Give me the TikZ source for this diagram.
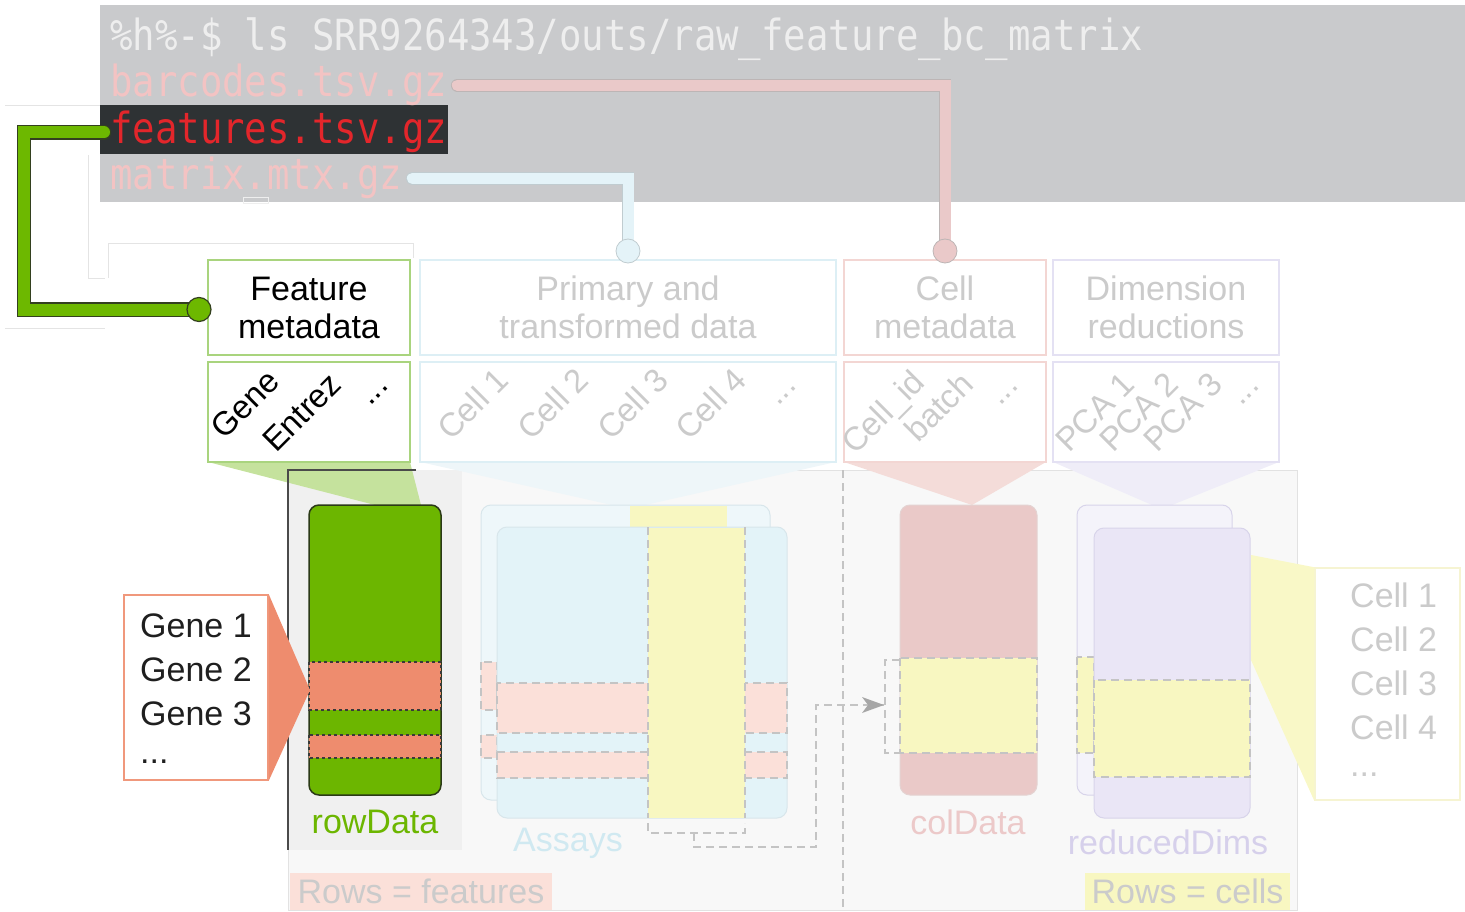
\documentclass[tikz,border=0pt]{standalone}
\usepackage{fontspec}
\newfontfamily\diagsans{Liberation Sans}
\newfontfamily\termmono{DejaVu Sans Mono}
\usetikzlibrary{positioning,calc,arrows.meta}

\definecolor{termgray}{HTML}{C9CACC}
\definecolor{hlgray}{HTML}{2E3234}
\definecolor{termwhite}{HTML}{EEEEEE}
\definecolor{fadepink}{HTML}{F3C3C3}
\definecolor{featred}{HTML}{E3262B}
\definecolor{wgreen}{HTML}{6DB800}
\definecolor{wgreenedge}{HTML}{33401F}
\definecolor{wpink}{HTML}{EAC9C9}
\definecolor{wpinkedge}{HTML}{BDB5B5}
\definecolor{wblue}{HTML}{E4F3F8}
\definecolor{wblueedge}{HTML}{C0CCD0}
\definecolor{greenbd}{HTML}{A9D47E}
\definecolor{bluebd}{HTML}{DDEFF5}
\definecolor{pinkbd}{HTML}{F3D6D3}
\definecolor{lavbd}{HTML}{E4E1F3}
\definecolor{fadetext}{HTML}{CBCBCB}
\definecolor{wedgegreen}{HTML}{C5E29D}
\definecolor{wedgeblue}{HTML}{EEF6F9}
\definecolor{wedgepink}{HTML}{F4DCD9}
\definecolor{wedgelav}{HTML}{EFEDF8}
\definecolor{panelgray}{HTML}{F8F8F8}
\definecolor{panelline}{HTML}{E2E2E2}
\definecolor{subgray}{HTML}{F0F0F0}
\definecolor{darkline}{HTML}{4A4A4A}
\definecolor{dashgray}{HTML}{C4C4C4}
\definecolor{framegray}{HTML}{E4E4E4}
\definecolor{rowgreen}{HTML}{6CB600}
\definecolor{rowedge}{HTML}{2B3A17}
\definecolor{salmon}{HTML}{EE8C6E}
\definecolor{salmonbd}{HTML}{F0987C}
\definecolor{darkdash}{HTML}{3A3A3A}
\definecolor{assayback}{HTML}{EEF7FA}
\definecolor{assayfront}{HTML}{E3F3F8}
\definecolor{assayedge}{HTML}{D8E6EB}
\definecolor{pinkfade}{HTML}{FBE0D9}
\definecolor{yel}{HTML}{F8F7C1}
\definecolor{yelbd}{HTML}{F6F4D2}
\definecolor{colpink}{HTML}{EAC9C8}
\definecolor{lavback}{HTML}{F4F3FA}
\definecolor{lavfront}{HTML}{EAE6F6}
\definecolor{lavedge}{HTML}{D8D4EA}
\definecolor{assaylab}{HTML}{D0E9F1}
\definecolor{collab}{HTML}{ECC9C9}
\definecolor{redlab}{HTML}{D6D0EB}

\newcommand\termstretch[1]{\scalebox{1}[1.15]{#1}}
\newcommand\sansbig{\diagsans\fontsize{34}{38}\selectfont}

\tikzset{
  termtxt/.style={anchor=base west, inner sep=0pt, font=\termmono\fontsize{37.3}{46}\selectfont},
  hdrbox/.style={draw, line width=2pt, fill=white, inner sep=0pt, align=center,
    minimum height=95pt, font=\sansbig},
  colbox/.style={draw, line width=2pt, fill=white, inner sep=0pt, minimum height=100pt},
  rlab/.style={rotate=45, anchor=base west, inner sep=0pt, font=\diagsans\fontsize{33}{36}\selectfont},
  slotbox/.style={draw, rounded corners=10pt, inner sep=0pt, line width=1pt},
  lab/.style={inner sep=0pt, font=\sansbig},
  listtxt/.style={anchor=base west, inner sep=0pt, font=\sansbig},
  wiregreen/.style={line width=1.2pt, draw=wgreenedge, double=wgreen, double distance=12pt, line cap=round},
  wirepink/.style={line width=0.8pt, draw=wpinkedge, double=wpink, double distance=11pt, line cap=round},
  wireblue/.style={line width=0.8pt, draw=wblueedge, double=wblue, double distance=11pt, line cap=round},
  banddash/.style={dashed, draw=dashgray, line width=1.2pt, dash pattern=on 8pt off 5pt},
}

\begin{document}
\begin{tikzpicture}[x=1pt,y=-1pt]
\useasboundingbox (0,0) rectangle (1465,912);

% terminal window
\fill[termgray] (100,5) rectangle (1465,202);
\fill[hlgray] (100,105) rectangle (448,154);
\draw[termwhite, line width=0.8pt] (243,197) rectangle (268,203);
\node[termtxt, text=termwhite] (cmdline) at (110,51) {\termstretch{\%h\%-\$ ls SRR9264343/outs/raw\_feature\_bc\_matrix}};
\node[termtxt, text=fadepink] (barcodes) at (110,97) {\termstretch{barcodes.tsv.gz}};
\node[termtxt, text=featred] (features) at (110,144) {\termstretch{features.tsv.gz}};
\node[termtxt, text=fadepink] (matrix) at (110,190) {\termstretch{matrix.mtx.gz}};

% faint frame of the pasted figure
\draw[framegray] (5,105) -- (100,105);
\draw[framegray] (5,328) -- (105,328);
\draw[framegray] (88,155) -- (88,278) -- (105,278);
\draw[framegray] (108,278) -- (108,243) -- (413,243) -- (413,258);

% big panel
\filldraw[fill=panelgray, draw=panelline, line width=1pt] (288,470) rectangle (1297,910);
\fill[subgray] (288,470) rectangle (462,850);
\draw[banddash] (843,470) -- (843,910);

% funnels
\fill[wedgegreen] (208,462) -- (410,462) -- (421,505) -- (375,505) -- cycle;
\fill[wedgeblue] (420,462) -- (836,462) -- (645,505) -- (612,505) -- cycle;
\fill[wedgepink] (844,462) -- (1046,462) -- (972,505) -- cycle;
\fill[wedgelav] (1053,462) -- (1279,462) -- (1172,505) -- (1152,505) -- cycle;
\draw[darkline, line width=1.5pt] (416,470) -- (288,470) -- (288,850);

% header boxes
\node[hdrbox, draw=greenbd, minimum width=202pt, text=black] (featmeta) at (309,307.5) {Feature\\metadata};
\node[hdrbox, draw=bluebd, minimum width=416pt, text=fadetext] (primdata) at (628,307.5) {Primary and\\transformed data};
\node[hdrbox, draw=pinkbd, minimum width=202pt, text=fadetext] (cellmeta) at (945,307.5) {Cell\\metadata};
\node[hdrbox, draw=lavbd, minimum width=226pt, text=fadetext] (dimred) at (1166,307.5) {Dimension\\reductions};

\node[colbox, draw=greenbd, minimum width=202pt] (featcols) at (309,412) {};
\node[colbox, draw=bluebd, minimum width=416pt] (cellcols) at (628,412) {};
\node[colbox, draw=pinkbd, minimum width=202pt] (metacols) at (945,412) {};
\node[colbox, draw=lavbd, minimum width=226pt] (pcacols) at (1166,412) {};

% column names
\node[rlab] (gene) at (224,441) {Gene};
\node[rlab] (entrez) at (276,454) {Entrez};
\node[rlab] (gdots) at (370,407) {...};
\node[rlab, text=fadetext] (cell1) at (451,442) {Cell 1};
\node[rlab, text=fadetext] (cell2) at (531,442) {Cell 2};
\node[rlab, text=fadetext] (cell3) at (611,442) {Cell 3};
\node[rlab, text=fadetext] (cell4) at (689,442) {Cell 4};
\node[rlab, text=fadetext] (cdots) at (778,407) {...};
\node[rlab, text=fadetext] (cellid) at (855,456) {Cell\_id};
\node[rlab, text=fadetext] (batch) at (918,444) {batch};
\node[rlab, text=fadetext] (mdots) at (1000,407) {...};
\node[rlab, text=fadetext] (pca1) at (1069,454) {PCA 1};
\node[rlab, text=fadetext] (pca2) at (1113,454) {PCA 2};
\node[rlab, text=fadetext] (pca3) at (1157,454) {PCA 3};
\node[rlab, text=fadetext] (pdots) at (1241,407) {...};

% rowData
\node[slotbox, fill=rowgreen, draw=rowedge, line width=1.5pt, minimum width=132pt, minimum height=290pt] (rowdata) at (375,650) {};
\filldraw[fill=salmon, draw=darkdash, dashed, line width=1.2pt] (309,662) rectangle (441,710);
\filldraw[fill=salmon, draw=darkdash, dashed, line width=1.2pt] (309,735) rectangle (441,758);
\node[lab, text=rowgreen] (rowlab) at (375,822) {rowData};

% gene list
\node[draw=salmonbd, line width=1.5pt, fill=white, minimum width=144pt, minimum height=185pt] (genelist) at (196,687.5) {};
\coordinate (genetip) at (310,690);
\fill[salmon] (genelist.north east) -- (genetip) -- (genelist.south east) -- cycle;
\foreach \t/\y in {1/637, 2/681, 3/725}
  \node[listtxt, text=black!88] (gene\t) at (140,\y) {Gene \t};
\node[listtxt, text=black!88] (genedots) at (140,763) {...};

% assays
\node[slotbox, fill=assayback, draw=assayedge, minimum width=289pt, minimum height=295pt] (assayb) at (625.5,652.5) {};
\fill[yel] (630,506) rectangle (727,527);
\filldraw[fill=pinkfade, banddash] (481,662) rectangle (497,710);
\filldraw[fill=pinkfade, banddash] (481,735) rectangle (497,758);
\node[slotbox, fill=assayfront, draw=assayedge, minimum width=290pt, minimum height=291pt] (assays) at (642,672.5) {};
\filldraw[fill=pinkfade, banddash] (497,683) rectangle (787,733);
\filldraw[fill=pinkfade, banddash] (497,752) rectangle (787,778);
\fill[yel] (648,527.5) rectangle (745,817.5);
\draw[banddash] (648,527) -- (648,818);
\draw[banddash] (745,527) -- (745,818);
\node[lab, text=assaylab] (assaylab) at (568,843) {Assays};

% selected cells go to colData
\draw[banddash] (648,823) -- (648,833) -- (745,833) -- (745,823);
\coordinate (selmid) at (694,833);
\coordinate (seltip) at (884,705);
\draw[banddash] (selmid) -- (694,847) -- (816,847) -- (816,705) -- (seltip);
\fill[gray!70] (seltip) -- ++(-22,-8) -- ++(6,8) -- ++(-6,8) -- cycle;

% colData
\node[slotbox, fill=colpink, draw=colpink!90!black!60, minimum width=137pt, minimum height=290pt] (coldata) at (968.5,650) {};
\filldraw[fill=yel, banddash] (900,658) rectangle (1037,753);
\draw[banddash] (900,660) -- (885,660) -- (885,753) -- (900,753);
\node[lab, text=collab] (collab) at (968,822) {colData};

% reducedDims
\node[slotbox, fill=lavback, draw=lavedge, minimum width=155pt, minimum height=290pt] (reddimb) at (1154.5,650) {};
\filldraw[fill=yel, banddash] (1077,657) rectangle (1094,753);
\node[slotbox, fill=lavfront, draw=lavedge, minimum width=156pt, minimum height=290pt] (reddim) at (1172,673) {};
\filldraw[fill=yel, banddash] (1094,680) rectangle (1250,777);
\node[lab, text=redlab] (redlab) at (1168,842) {reducedDims};

% cell list
\node[draw=yelbd, line width=1.5pt, fill=white, minimum width=145pt, minimum height=232pt] (celllist) at (1387.5,684) {};
\fill[yel!90] (1251,555) -- (celllist.north west) -- (celllist.south west) -- (1251,660) -- cycle;
\foreach \t/\y in {1/607, 2/651, 3/695, 4/739}
  \node[listtxt, text=fadetext] (cellrow\t) at (1350,\y) {Cell \t};
\node[listtxt, text=fadetext] (celldots) at (1350,776) {...};

% bottom tags
\node[lab, fill=pinkfade, text=fadetext, minimum width=262pt, minimum height=37pt] (rowsfeat) at (421,891.5) {Rows = features};
\node[lab, fill=yel, text=fadetext, minimum width=205pt, minimum height=37pt] (rowscell) at (1187.5,891.5) {Rows = cells};

% wires from the files
\coordinate (fmend) at ($(featmeta.west)+(-8,2)$);
\coordinate (cmend) at ($(cellmeta.north)+(0,-8)$);
\coordinate (pdend) at ($(primdata.north)+(0,-8)$);
\draw[wiregreen] ($(features.west)+(-6,0)$) -- ++(-80,0) |- (fmend);
\filldraw[fill=wgreen, draw=wgreenedge, line width=1.2pt] (fmend) circle (12pt);
\draw[wirepink] ($(barcodes.east)+(10,0)$) -| (cmend);
\filldraw[fill=wpink, draw=wpinkedge, line width=0.8pt] (cmend) circle (12pt);
\draw[wireblue] ($(matrix.east)+(10,0)$) -| (pdend);
\filldraw[fill=wblue, draw=wblueedge, line width=0.8pt] (pdend) circle (12pt);
\end{tikzpicture}
\end{document}
